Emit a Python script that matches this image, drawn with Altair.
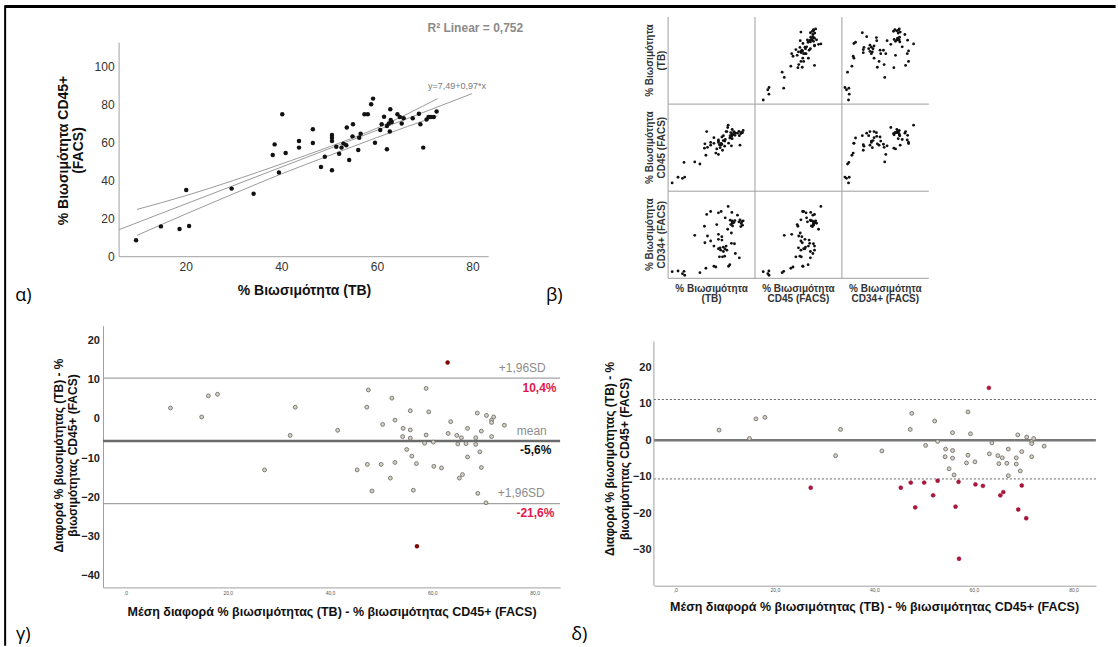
import altair as alt
import pandas as pd

# ---------------- data ----------------
# Panel a / b : viability by TB, CD45+ (FACS), CD34+ (FACS)
tb = [9.6, 14.8, 18.7, 20.7, 20.1, 29.6, 34.2, 38.2, 38.6, 39.5, 40.2, 40.9, 43.7, 43.7, 46.6, 46.6,
      48.3, 49.1, 50.6, 50.6, 50.6, 50.6, 51.5, 52.1, 52.6, 53.0, 53.6, 53.7, 54.2, 55.0, 54.9, 56.1,
      56.3, 56.6, 57.4, 58.1, 58.8, 59.2, 59.6, 60.7, 61.0, 61.5, 62.1, 62.1, 62.5, 62.7, 62.8, 62.9,
      63.1, 64.3, 64.8, 65.2, 65.6, 67.5, 68.8, 69.1, 69.7, 70.4, 70.8, 71.3, 71.9, 72.5]
cd45 = [8.6, 15.9, 14.5, 16.1, 35.0, 35.7, 33.0, 53.3, 58.9, 44.2, 74.7, 54.4, 60.7, 57.2, 66.8, 59.6,
        47.0, 52.4, 63.8, 62.4, 60.7, 45.3, 57.7, 54.0, 57.2, 59.3, 58.4, 67.7, 50.7, 69.4, 63.1, 55.9,
        62.4, 64.5, 74.7, 74.7, 79.9, 82.9, 59.8, 66.4, 69.4, 73.4, 56.3, 68.5, 69.8, 65.6, 77.3, 71.7,
        70.6, 74.7, 73.3, 69.8, 72.6, 72.6, 75.0, 69.4, 57.2, 72.0, 73.3, 73.3, 73.3, 76.2]
cd34 = [4.6, 5.4, 2.3, 0.5, 5.0, 46.3, 3.5, 56.8, 37.8, 8.5, 70.3, 45.6, 73.7, 39.8, 34.0, 10.8,
        10.0, 58.7, 72.2, 41.7, 30.9, 47.5, 21.6, 32.0, 29.3, 73.7, 44.8, 40.9, 21.6, 27.8, 32.8, 22.4,
        30.9, 66.4, 34.0, 29.3, 53.3, 79.5, 10.8, 12.7, 63.7, 58.7, 49.0, 37.1, 72.6, 61.8, 60.2, 62.9,
        57.1, 61.0, 36.7, 63.3, 25.5, 69.5, 61.8, 20.5, 64.1, 56.4, 60.0, 62.0, 58.0, 63.0]

# regression line and its 95% band (panel a)
fit_x = [6.05, 79.9]
fit_y = [14.2, 85.5]
band_x = [9.8, 20, 30, 40, 50, 60, 72.7]
band_upper = [24.8, 32.0, 40.0, 48.6, 57.6, 67.4, 82.9]
band_lower = [11.2, 22.4, 33.0, 43.4, 53.0, 62.5, 73.8]

# Bland-Altman (panels c, d)
ba_mean = [8.8, 14.9, 16.2, 18.0, 33.2, 32.2, 41.5, 47.5, 47.2, 52.1, 50.3, 52.7, 55.7, 54.3, 54.2,
           55.7, 55.7, 55.0, 56.0, 58.8, 59.3, 58.8, 58.5, 60.2, 63.1, 63.6, 64.8, 65.0, 65.7, 66.9,
           66.6, 66.9, 68.5, 68.5, 68.8, 69.3, 69.6, 70.6, 71.6, 71.6, 71.6, 72.0, 74.1,
           27.2, 45.3, 47.3, 48.2, 50.0, 52.7, 51.8, 56.3, 56.9, 57.0, 60.3, 61.8, 63.0, 65.3, 65.9,
           68.9, 69.6, 70.5]
ba_diff = [2.8, 0.5, 5.9, 6.3, 3.0, -4.2, -2.9, 7.4, 3.0, 5.3, -1.4, -0.3, 2.1, -2.4, -4.5,
           -2.8, -4.9, -7.8, -9.5, 7.8, 1.8, -4.1, -6.2, -5.9, -3.7, -0.7, -4.2, -6.4, -4.8, -2.4,
           -6.3, -9.7, -4.8, -6.5, 1.5, -8.4, -3.1, 0.9, -0.3, -0.9, -4.5, 0.5, -1.6,
           -13.0, -13.0, -11.6, -18.4, -11.6, -11.1, -15.1, -18.2, -11.4, -32.5, -12.1, -12.5, 14.4,
           -15.1, -14.2, -19.0, -12.4, -21.4]
ba_upper_c, ba_mean_c, ba_lower_c = 10.4, -5.6, -21.6
d_upper, d_zero, d_lower = 11.2, 0.0, -10.6

alpha_xticks = [20, 40, 60, 80]
alpha_yticks = [0, 20, 40, 60, 80, 100]
ba_xticks = [0, 20, 40, 60, 80]
ba_yticks = [-40, -30, -20, -10, 0, 10, 20]

splom_vars = ["tb", "cd45", "cd34"]
splom_names = ["% Βιωσιμότητα\n(TB)", "% Βιωσιμότητα\nCD45 (FACS)", "% Βιωσιμότητα\nCD34+ (FACS)"]
splom_range = {"tb": [6, 83], "cd45": [-2, 110], "cd34": [-3, 97]}

# ---------------- styles ----------------
FONT = "Liberation Sans"
LETTER_FONT = "Open Sans"
AX = "#a0a0a0"
GREY_FILL = "#d8d1c1"
GREY_STROKE = "#6f6f6f"
one = pd.DataFrame({"k": [0]})

subj = pd.DataFrame({"tb": tb, "cd45": cd45, "cd34": cd34})
band = pd.DataFrame({"x": band_x, "upper": band_upper, "lower": band_lower})
fit = pd.DataFrame({"x": fit_x, "y": fit_y})
ba = pd.DataFrame({"mean": ba_mean, "diff": ba_diff})


def txt(px, py, xs, ys, xa, ya, text, **kw):
    return alt.Chart(one).mark_text(text=text, **kw).encode(
        x=alt.X(datum=px, scale=xs, axis=xa),
        y=alt.Y(datum=py, scale=ys, axis=ya))


def hrule(xs, ys, xa, ya, x1, x2, y, **kw):
    return alt.Chart(one).mark_rule(**kw).encode(
        x=alt.X(datum=x1, scale=xs, axis=xa), x2=alt.X2(datum=x2),
        y=alt.Y(datum=y, scale=ys, axis=ya))


def vrule(xs, ys, xa, ya, x, y1, y2, **kw):
    return alt.Chart(one).mark_rule(**kw).encode(
        x=alt.X(datum=x, scale=xs, axis=xa),
        y=alt.Y(datum=y1, scale=ys, axis=ya), y2=alt.Y2(datum=y2))


def yrule(ys, ya, y, **kw):
    return alt.Chart(one).mark_rule(**kw).encode(y=alt.Y(datum=y, scale=ys, axis=ya))


# ---------------- panel a ----------------
axs = alt.Scale(domain=[2.68, 83.4], nice=False, zero=False)
ays = alt.Scale(domain=[0, 125.7], nice=False, zero=False)
a_xa = alt.Axis(
    values=alpha_xticks, domain=False, ticks=False, grid=False, labelFontSize=12,
    labelColor="#333333", labelPadding=5, title="% Βιωσιμότητα (TB)", titleFontSize=14,
    titleFontWeight="bold", titleColor="#111111", titleX=201, titleY=34,
    titleBaseline="middle", titleAlign="center")
a_ya = alt.Axis(
    values=alpha_yticks, offset=-16.1, domain=False, ticks=False, grid=False, labelFontSize=12,
    labelColor="#333333", labelPadding=5, title=["% Βιωσιμότητα CD45+", "(FACS)"],
    titleFontSize=14, titleFontWeight="bold", titleColor="#111111", titleLineHeight=15,
    titleX=-56, titleY=133, titleBaseline="middle", titleAlign="center", titleAngle=270)

a_band_u = alt.Chart(band).mark_line(color="#9b9b9b", strokeWidth=1, interpolate="monotone").encode(
    x=alt.X("x:Q", scale=axs, axis=a_xa), y=alt.Y("upper:Q", scale=ays, axis=a_ya))
a_band_l = alt.Chart(band).mark_line(color="#9b9b9b", strokeWidth=1, interpolate="monotone").encode(
    x=alt.X("x:Q", scale=axs, axis=a_xa), y=alt.Y("lower:Q", scale=ays, axis=a_ya))
a_fit = alt.Chart(fit).mark_line(color="#9b9b9b", strokeWidth=1).encode(
    x=alt.X("x:Q", scale=axs, axis=a_xa), y=alt.Y("y:Q", scale=ays, axis=a_ya))
a_points = alt.Chart(subj).mark_circle(size=20, color="#111111", opacity=1).encode(
    x=alt.X("tb:Q", scale=axs, axis=a_xa), y=alt.Y("cd45:Q", scale=ays, axis=a_ya))
a_xline = hrule(axs, ays, a_xa, a_ya, 6.05, 83.4, 0, color=AX, strokeWidth=1)
a_yline = vrule(axs, ays, a_xa, a_ya, 6.05, 0, 112.2, color=AX, strokeWidth=1)
a_r2 = txt(80.6, 120.1, axs, ays, a_xa, a_ya, "R² Linear = 0,752", fontSize=12, fontWeight="bold",
           color="#8a8a8a", align="center", baseline="middle")
a_eq = txt(70.7, 89.5, axs, ays, a_xa, a_ya, "y=7,49+0,97*x", fontSize=9, color="#7a7a7a",
           align="left", baseline="middle")
a_lab = txt(-14.0, -20.6, axs, ays, a_xa, a_ya, "α)", fontSize=18, font=LETTER_FONT,
            color="#000000", align="center", baseline="middle")
b_lab = txt(95.4, -20.6, axs, ays, a_xa, a_ya, "β)", fontSize=18, font=LETTER_FONT,
            color="#000000", align="left", baseline="middle")
# outer frame lines (top and left)
border_top = hrule(axs, ays, a_xa, a_ya, -17.8, 214.6, 131.2, color="#000000", strokeWidth=3)
border_left = vrule(axs, ays, a_xa, a_ya, -17.8, 131.9, -204.0, color="#000000", strokeWidth=2)

panel_a = alt.layer(a_band_u, a_band_l, a_fit, a_xline, a_yline, a_points, a_r2, a_eq,
                    a_lab, b_lab, border_top, border_left).properties(width=385.7, height=239.7)

# ---------------- panel b (scatter-plot matrix) ----------------
sxs = alt.Scale(domain=[-0.1634, 3], nice=False, zero=False)
sys_ = alt.Scale(domain=[0, 3], nice=False, zero=False, reverse=True)
b_layers = []
for r, yv in enumerate(splom_vars):
    for c, xv in enumerate(splom_vars):
        if r == c:
            continue
        xlo, xhi = splom_range[xv]
        ylo, yhi = splom_range[yv]
        b_layers.append(
            alt.Chart(subj).transform_calculate(
                px=f"{c} + (datum.{xv} - ({xlo})) / {xhi - xlo}",
                py=f"{r + 1} - (datum.{yv} - ({ylo})) / {yhi - ylo}",
            ).mark_circle(size=8, color="#111111", opacity=1).encode(
                x=alt.X("px:Q", scale=sxs, axis=None), y=alt.Y("py:Q", scale=sys_, axis=None)))
grid_v = [vrule(sxs, sys_, None, None, k, 0, 3, color="#9e9e9e", strokeWidth=1) for k in (0, 1, 2)]
grid_h = [hrule(sxs, sys_, None, None, 0, 3, k, color="#9e9e9e", strokeWidth=1) for k in (1, 2, 3)]
names_df = pd.DataFrame({"name": splom_names, "pos": [0.5, 1.5, 2.5]})
b_left = alt.Chart(names_df).mark_text(
    lineBreak="\n", angle=270, fontSize=10, fontWeight="bold", color="#333333",
    align="center", baseline="middle", lineHeight=11.5).encode(
    x=alt.X(datum=-0.2075, scale=sxs, axis=None), y=alt.Y("pos:Q", scale=sys_, axis=None),
    text="name:N")
b_bottom = alt.Chart(names_df).mark_text(
    lineBreak="\n", fontSize=10, fontWeight="bold", color="#333333",
    align="center", baseline="middle", lineHeight=10.5).encode(
    x=alt.X("pos:Q", scale=sxs, axis=None), y=alt.Y(datum=3.118, scale=sys_, axis=None),
    text="name:N")
panel_b = alt.layer(*grid_v, *grid_h, *b_layers, b_left, b_bottom).properties(width=274.9, height=261.3)

# ---------------- Bland-Altman helpers ----------------
label_expr = "datum.value == 0 ? ',0' : replace(format(datum.value, '.1f'), '.', ',')"
ba_ytitle = ["Διαφορά % βιωσιμότητας (TB) - %", "βιωσιμότητας CD45+ (FACS)"]
ba_xtitle = "Μέση διαφορά % βιωσιμότητας (TB) - % βιωσιμότητας CD45+ (FACS)"


def ba_axes(xdomain, ydomain, tx, ty, ytx, yty, xlabpad, ylabpad):
    xa = alt.Axis(
        values=ba_xticks, labelExpr=label_expr, labelFontSize=5, labelColor="#555555",
        labelPadding=xlabpad, ticks=False, grid=False, domain=xdomain, domainColor=AX,
        title=ba_xtitle, titleFontSize=12.5, titleFontWeight="bold", titleColor="#111111",
        titleX=tx, titleY=ty, titleBaseline="middle", titleAlign="center")
    ya = alt.Axis(
        values=ba_yticks, labelFontSize=11, labelFontWeight="bold", labelColor="#222222",
        labelPadding=ylabpad, ticks=False, grid=False, domain=ydomain, domainColor=AX,
        title=ba_ytitle, titleFontSize=12, titleFontWeight="bold", titleColor="#111111",
        titleLineHeight=14.5, titleX=ytx, titleY=yty, titleBaseline="middle",
        titleAlign="center", titleAngle=270)
    return xa, ya


def ba_points(xs, ys, xa, ya, cond, **kw):
    return alt.Chart(ba).transform_filter(cond).mark_point(
        shape="circle", filled=True, opacity=1, **kw).encode(
        x=alt.X("mean:Q", scale=xs, axis=xa), y=alt.Y("diff:Q", scale=ys, axis=ya))


# ---------------- panel c ----------------
gxs = alt.Scale(domain=[-4.40, 85.0], nice=False, zero=False)
gys = alt.Scale(domain=[-43.0, 23.8], nice=False, zero=False)
g_xa, g_ya = ba_axes(True, True, 228.6, 24.3, -45.0, 129.3, 3, 3.6)

c_lines = [yrule(gys, g_ya, ba_upper_c, color="#a3a3a3", strokeWidth=1.3),
           yrule(gys, g_ya, ba_lower_c, color="#a3a3a3", strokeWidth=1.3),
           yrule(gys, g_ya, ba_mean_c, color="#6a6a6a", strokeWidth=2.5)]
c_grey = ba_points(gxs, gys, g_xa, g_ya,
                   f"datum.diff <= {ba_upper_c} && datum.diff >= {ba_lower_c}",
                   fill=GREY_FILL, stroke=GREY_STROKE, strokeWidth=0.9, size=15)
c_red = ba_points(gxs, gys, g_xa, g_ya,
                  f"datum.diff > {ba_upper_c} || datum.diff < {ba_lower_c}",
                  fill="#8b0000", stroke="#6b0000", strokeWidth=0.6, size=15)
c_txt = [
    txt(82.2, 13.1, gxs, gys, g_xa, g_ya, "+1,96SD", fontSize=12, color="#8c8c8c", align="right", baseline="middle"),
    txt(84.3, 8.0, gxs, gys, g_xa, g_ya, "10,4%", fontSize=12, fontWeight="bold", color="#e3174d", align="right", baseline="middle"),
    txt(82.4, -3.06, gxs, gys, g_xa, g_ya, "mean", fontSize=12, color="#8c8c8c", align="right", baseline="middle"),
    txt(83.3, -8.0, gxs, gys, g_xa, g_ya, "-5,6%", fontSize=12, fontWeight="bold", color="#111111", align="right", baseline="middle"),
    txt(82.0, -19.0, gxs, gys, g_xa, g_ya, "+1,96SD", fontSize=12, color="#8c8c8c", align="right", baseline="middle"),
    txt(83.9, -23.9, gxs, gys, g_xa, g_ya, "-21,6%", fontSize=12, fontWeight="bold", color="#e3174d", align="right", baseline="middle"),
    txt(-20.0, -55.1, gxs, gys, g_xa, g_ya, "γ)", fontSize=18, font=LETTER_FONT, color="#000000", align="center", baseline="middle"),
]
panel_c = alt.layer(*c_lines, c_grey, c_red, *c_txt).properties(width=457.1, height=261.7)

# ---------------- panel d ----------------
dxs = alt.Scale(domain=[-4.30, 84.5], nice=False, zero=False)
dys = alt.Scale(domain=[-39.9, 31.46], nice=False, zero=False)
d_xa, d_ya = ba_axes(True, False, 220.2, 21, -44.0, 132.7, 2, 2.8)
d_lines = [yrule(dys, d_ya, d_upper, color="#666666", strokeWidth=1, strokeDash=[2, 2]),
           yrule(dys, d_ya, d_lower, color="#666666", strokeWidth=1, strokeDash=[2, 2]),
           yrule(dys, d_ya, d_zero, color="#777777", strokeWidth=2.5),
           vrule(dxs, dys, d_xa, d_ya, -4.30, -39.9, 27.1, color=AX, strokeWidth=1)]
d_grey = ba_points(dxs, dys, d_xa, d_ya,
                   f"datum.diff <= {d_upper} && datum.diff >= {d_lower}",
                   fill=GREY_FILL, stroke=GREY_STROKE, strokeWidth=0.9, size=15)
d_red = ba_points(dxs, dys, d_xa, d_ya,
                  f"datum.diff > {d_upper} || datum.diff < {d_lower}",
                  fill="#b3143c", stroke="#8e0f2f", strokeWidth=0.6, size=15)
d_lab = txt(-19.3, -53.4, dxs, dys, d_xa, d_ya, "δ)", fontSize=18, font=LETTER_FONT,
            color="#000000", align="center", baseline="middle")
panel_d = alt.layer(*d_lines, d_grey, d_red, d_lab).properties(width=442, height=260)

chart = alt.concat(
    panel_a, panel_b, panel_c, panel_d, columns=2, bounds="flush", align="each",
    spacing={"row": 46.7, "column": 92.9},
).properties(
    padding={"left": 3, "top": 4, "right": 0, "bottom": 0}
).configure(font=FONT).configure_view(strokeWidth=0)

chart.save("out.html", embed_options={"renderer": "svg", "actions": False})
